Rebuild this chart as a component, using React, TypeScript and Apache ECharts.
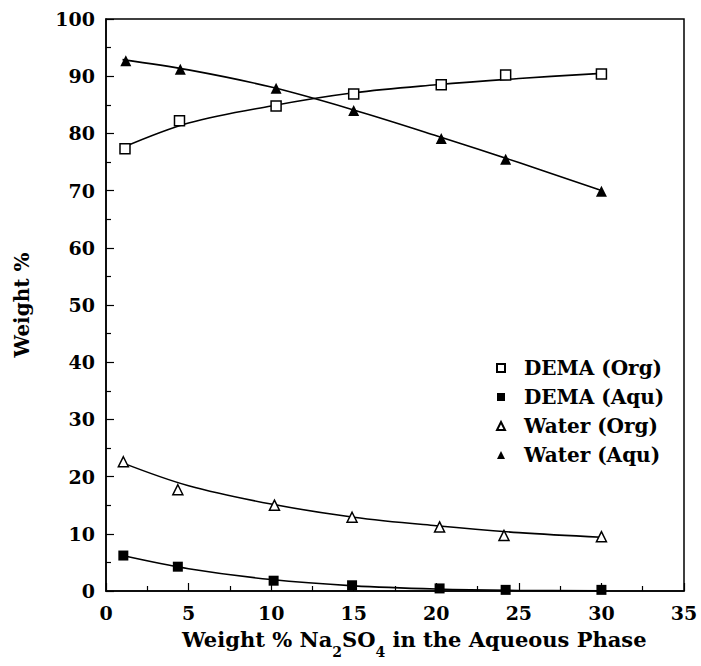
import React, { useEffect, useRef } from "react";
import * as echarts from "echarts";

// Marker data
const demaOrgX = [1.15, 4.45, 10.3, 15.0, 20.3, 24.2, 30.0];
const demaOrgY = [77.3, 82.2, 84.8, 86.9, 88.5, 90.2, 90.4];
const demaAquX = [1.05, 4.35, 10.15, 14.9, 20.2, 24.2, 30.0];
const demaAquY = [6.2, 4.25, 1.8, 1.0, 0.45, 0.2, 0.2];
const waterOrgX = [1.05, 4.35, 10.2, 14.9, 20.2, 24.1, 30.0];
const waterOrgY = [22.6, 17.7, 15.0, 12.9, 11.2, 9.7, 9.5];
const waterAquX = [1.2, 4.5, 10.3, 15.0, 20.3, 24.2, 30.0];
const waterAquY = [92.7, 91.2, 87.9, 84.0, 79.1, 75.5, 69.9];

// Fitted curves
const fitX = [1, 5, 10, 15, 20, 25, 30];
const demaOrgFit = [77.5, 81.8, 84.8, 87.1, 88.5, 89.6, 90.5];
const demaAquFit = [6.2, 3.9, 2.0, 0.9, 0.35, 0.1, 0.05];
const waterOrgFit = [22.4, 18.4, 15.2, 12.9, 11.4, 10.2, 9.4];
const waterAquFit = [92.9, 91.1, 88.1, 84.1, 79.6, 74.9, 70.0];

const seriesNames = ["DEMA (Org)", "DEMA (Aqu)", "Water (Org)", "Water (Aqu)"];

const FONT = "DejaVu Serif";

const zip = (xs: number[], ys: number[]) => xs.map((x, i) => [x, ys[i]]);

export default function App() {
  const ref = useRef<HTMLDivElement>(null);
  useEffect(() => {
    if (!ref.current) return;
    const chart = echarts.init(ref.current, undefined, { renderer: "svg" });
    const fitLine = (ys: number[]) => ({
      type: "line",
      data: zip(fitX, ys),
      smooth: 0.35,
      showSymbol: false,
      symbol: "none",
      silent: true,
      lineStyle: { color: "#000", width: 1.6 },
      z: 2,
    });
    const marker = (
      name: string,
      xs: number[],
      ys: number[],
      symbol: string,
      filled: boolean,
      size: number
    ) => ({
      type: "scatter",
      name,
      data: zip(xs, ys),
      symbol,
      symbolSize: size,
      itemStyle: {
        color: filled ? "#000" : "#fff",
        borderColor: "#000",
        borderWidth: filled ? 0 : 1.5,
        opacity: 1,
      },
      z: 3,
    });
    chart.setOption({
      animation: false,
      backgroundColor: "#fff",
      grid: {
        left: 106,
        top: 19,
        right: 17,
        bottom: 75,
        containLabel: false,
        outerBoundsMode: "none",
        show: true,
        borderColor: "#000",
        borderWidth: 1.5,
        backgroundColor: "transparent",
      },
      legend: {
        orient: "vertical",
        left: 491,
        top: 353,
        itemWidth: 8,
        itemHeight: 8,
        itemGap: 9,
        data: seriesNames,
        textStyle: {
          fontFamily: FONT,
          fontWeight: "bold",
          fontSize: 20,
          color: "#000",
          lineHeight: 20,
          padding: [0, 0, 0, 14],
        },
      },
      xAxis: {
        type: "value",
        min: 0,
        max: 35,
        interval: 5,
        axisLine: { show: true, lineStyle: { color: "#000", width: 1.5 } },
        axisTick: { show: true, inside: true, length: 8, lineStyle: { color: "#000", width: 1.2 } },
        minorTick: { show: true, splitNumber: 2, length: 5, lineStyle: { color: "#000", width: 1.2 } },
        splitLine: { show: false },
        axisLabel: {
          margin: 12,
          fontFamily: FONT,
          fontWeight: "bold",
          fontSize: 19,
          color: "#000",
        },
      },
      yAxis: {
        type: "value",
        min: 0,
        max: 100,
        interval: 10,
        name: "Weight %",
        nameLocation: "middle",
        nameRotate: 90,
        nameGap: 74,
        nameTextStyle: {
          fontFamily: FONT,
          fontWeight: "bold",
          fontSize: 20,
          color: "#000",
        },
        axisLine: { show: true, lineStyle: { color: "#000", width: 1.5 } },
        axisTick: { show: true, inside: true, length: 8, lineStyle: { color: "#000", width: 1.2 } },
        minorTick: { show: true, splitNumber: 2, length: 5, lineStyle: { color: "#000", width: 1.2 } },
        splitLine: { show: false },
        axisLabel: {
          margin: 11,
          fontFamily: FONT,
          fontWeight: "bold",
          fontSize: 19,
          color: "#000",
        },
      },
      graphic: [
        {
          type: "text",
          left: 182,
          top: 629,
          style: {
            text: "{n|Weight % Na}{s|2}{n|SO}{s|4}{n| in the Aqueous Phase}",
            rich: {
              n: {
                fontFamily: FONT,
                fontWeight: "bold",
                fontSize: 21,
                lineHeight: 22,
                verticalAlign: "top",
                fill: "#000",
              },
              s: {
                fontFamily: FONT,
                fontWeight: "bold",
                fontSize: 14,
                lineHeight: 30,
                verticalAlign: "bottom",
                fill: "#000",
              },
            },
          },
        },
      ],
      series: [
        fitLine(demaOrgFit),
        fitLine(demaAquFit),
        fitLine(waterOrgFit),
        fitLine(waterAquFit),
        marker(seriesNames[0], demaOrgX, demaOrgY, "rect", false, 10),
        marker(seriesNames[1], demaAquX, demaAquY, "rect", true, 10),
        marker(seriesNames[2], waterOrgX, waterOrgY, "triangle", false, 10),
        marker(seriesNames[3], waterAquX, waterAquY, "triangle", true, 11),
      ],
    });
    return () => chart.dispose();
  }, []);
  return (
    <div
      ref={ref}
      style={{ position: "fixed", left: 0, top: 0, width: 701, height: 666, background: "#fff" }}
    />
  );
}
